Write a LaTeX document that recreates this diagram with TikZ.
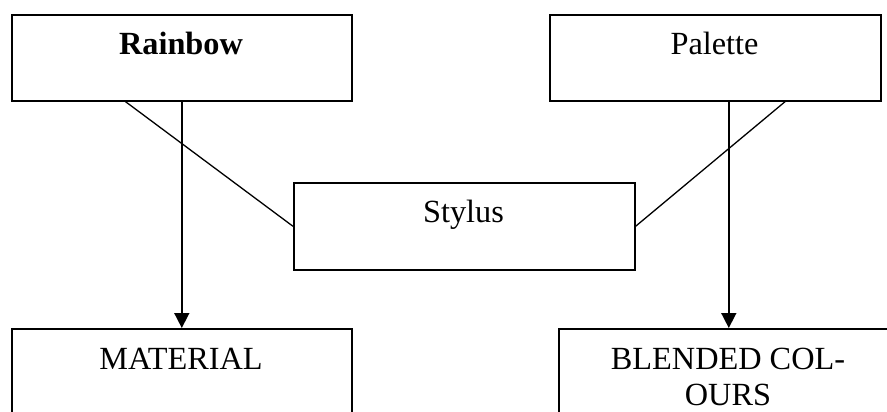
\documentclass[tikz,border=0pt]{standalone}
\usepackage{fontspec}
\setmainfont{Liberation Serif}
\usetikzlibrary{arrows.meta,calc}

\tikzset{
  box/.style={draw, line width=1.6pt, anchor=north west, inner sep=0pt},
  txt/.style={inner sep=0pt, font=\fontsize{32.3}{36}\selectfont},
  arr/.style={-{Triangle[width=15pt,length=15pt]}, line width=1.6pt},
  conn/.style={line width=1.3pt}
}

\begin{document}
\begin{tikzpicture}[x=1pt,y=-1pt]
\clip (0,0) rectangle (887,412);

% boxes
\node[box, minimum width=340pt, minimum height=86pt] (rainbow) at (11,14) {};
\node[box, minimum width=331pt, minimum height=86pt] (palette) at (549,14) {};
\node[box, minimum width=341pt, minimum height=87pt] (stylus) at (293,182) {};
\node[box, minimum width=340pt, minimum height=130pt] (material) at (11,328) {};
\node[box, minimum width=340pt, minimum height=130pt] (blended) at (558,328) {};

% texts
\node[txt, anchor=base] (rainbowtxt) at (181,55) {\textbf{Rainbow}};
\node[txt, anchor=base] (palettetxt) at (714.5,55) {Palette};
\node[txt, anchor=base] (stylustxt) at (463.5,222.5) {Stylus};
\node[txt, anchor=base] (materialtxt) at (181,369) {MATERIAL};
\node[txt, anchor=north, align=center] (blendedtxt) at (728,347.5) {BLENDED COL-\\OURS};

% connectors
\draw[arr] (rainbow.south) -- (material.north);
\draw[arr] (palette.south -| blended.north) -- (blended.north);
\draw[conn] ($(rainbow.south west)!0.335!(rainbow.south east)$) -- (stylus.west);
\draw[conn] ($(palette.south west)!0.71!(palette.south east)$) -- (stylus.east);
\draw[conn] ($(material.north east)+(0,36)$) -- ($(material.north east)+(0,36)$ -| blended.west);
\end{tikzpicture}
\end{document}
